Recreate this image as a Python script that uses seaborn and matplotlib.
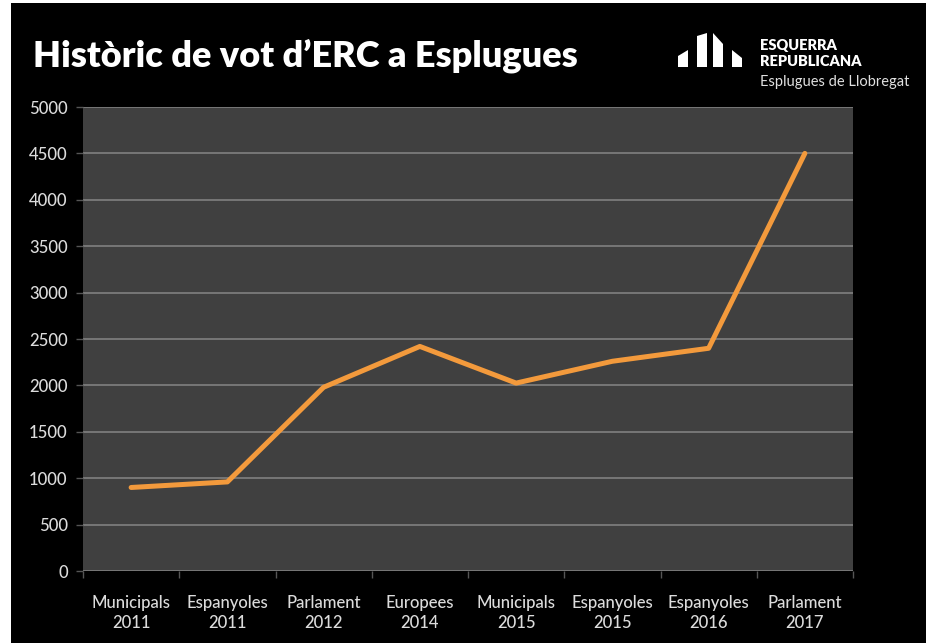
import seaborn as sns
import pandas as pd
import matplotlib.pyplot as plt
from matplotlib.patches import Rectangle, Polygon

eleccions = ["Municipals\n2011", "Espanyoles\n2011", "Parlament\n2012", "Europees\n2014",
             "Municipals\n2015", "Espanyoles\n2015", "Espanyoles\n2016", "Parlament\n2017"]
vots = [900, 960, 1980, 2420, 2025, 2260, 2400, 4500]
yticks = [0, 500, 1000, 1500, 2000, 2500, 3000, 3500, 4000, 4500, 5000]

df = pd.DataFrame({"eleccio": eleccions, "vots": vots})

sns.set_style("dark")
plt.rcParams["font.family"] = ["Lato", "DejaVu Sans"]

fig = plt.figure(figsize=(9.26, 6.43), dpi=100, facecolor="white")
# black card with thin white margin left/top
fig.patches.append(Rectangle((11 / 926, 0), 1, 1 - 3 / 643, transform=fig.transFigure,
                             facecolor="black", edgecolor="none", zorder=-5))

ax = fig.add_axes([83 / 926, 72 / 643, 770 / 926, 464 / 643])
ax.set_facecolor("#404040")

sns.lineplot(data=df, x="eleccio", y="vots", sort=False, color="#f39a3c", linewidth=3.6,
             solid_joinstyle="round", solid_capstyle="round", ax=ax, zorder=3)

ax.set_xlim(-0.5, len(eleccions) - 0.5)
ax.set_ylim(0, 5000)
ax.set_yticks(yticks)
ax.set_yticklabels([str(v) for v in yticks])
ax.set_xticks(range(len(eleccions)))
ax.set_xticklabels(eleccions, linespacing=1.35)
ax.set_xticks([i - 0.5 for i in range(len(eleccions) + 1)], minor=True)

ax.grid(False)
ax.grid(axis="y", color="#808080", linewidth=1.2)
for s in ax.spines.values():
    s.set_visible(False)

ax.tick_params(axis="x", which="major", length=0, pad=17, labelcolor="#dcdcdc", labelsize=12)
ax.tick_params(axis="x", which="minor", length=5, width=1, color="#555555", bottom=True)
ax.tick_params(axis="y", length=5, width=1, color="#555555", pad=6, labelcolor="#dcdcdc",
               labelsize=12, left=True)
for lab in ax.get_xticklabels() + ax.get_yticklabels():
    lab.set_fontweight("medium")
ax.set_xlabel("")
ax.set_ylabel("")

# title
fig.text(33 / 926, 1 - 56 / 643, "Històric de vot d’ERC a Esplugues", color="white",
         fontsize=26, fontweight="heavy", va="center", ha="left")

# logo
logo = [
    [(678, 67), (688, 67), (688, 50), (678, 56)],
    [(697, 67), (707, 67), (707, 33), (697, 36)],
    [(713, 67), (723, 67), (723, 44), (713, 33)],
    [(732, 67), (742, 67), (742, 58), (732, 50)],
]
for pts in logo:
    fig.patches.append(Polygon([(x / 926, 1 - y / 643) for x, y in pts], closed=True,
                               transform=fig.transFigure, facecolor="white", edgecolor="none",
                               zorder=2))

fig.text(760 / 926, 1 - 45 / 643, "ESQUERRA", color="white", fontsize=10.5, fontweight="heavy",
         va="center", ha="left")
fig.text(760 / 926, 1 - 62 / 643, "REPUBLICANA", color="white", fontsize=10.5, fontweight="heavy",
         va="center", ha="left")
fig.text(760 / 926, 1 - 82 / 643, "Esplugues de Llobregat", color="#e0e0e0", fontsize=10.5,
         va="center", ha="left")

fig.savefig("out.png", dpi=100, facecolor=fig.get_facecolor())
